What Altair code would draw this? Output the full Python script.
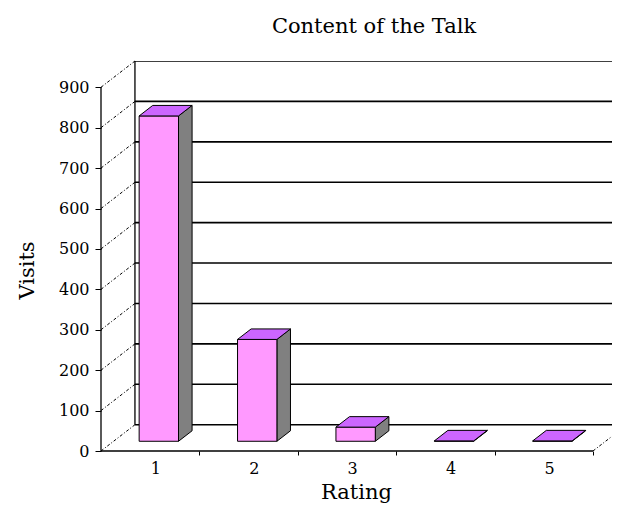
import json
import altair as alt
import pandas as pd

# ---------------- data ----------------
ratings = ["1", "2", "3", "4", "5"]
visits = [805, 252, 35, 1, 1]
y_ticks = [0, 100, 200, 300, 400, 500, 600, 700, 800, 900]

title_text = "Content of the Talk"
x_title = "Rating"
y_title = "Visits"

# ---------------- 3D geometry (data units) ----------------
DX = 0.345          # depth shift along x (in category widths)
DY = 65.0           # depth shift along y (in value units)
BAR_L, BAR_R = 0.26, 0.66   # bar extent inside its category
F0, F1 = 0.37, 0.77         # bar front / back depth fractions
n = len(ratings)
W, H = 511, 390
XMAX = W / 98.4
YMAX = max(y_ticks) + DY

FONT = "DejaVu Serif"
FRONT = "#FF99FF"
TOP = "#CC66FF"
SIDE = "#808080"

X = alt.Scale(domain=[0, XMAX], nice=False, zero=False)
Y = alt.Scale(domain=[0, YMAX], nice=False, zero=False)

AX = alt.Axis(
    values=list(range(1, n + 1)),
    labelExpr=f"{json.dumps(ratings)}[datum.value - 1]",
    domain=False, grid=False, ticks=True, tickSize=4, tickColor="black", tickWidth=1,
    labelOffset=-44, labelPadding=5, labelFont=FONT, labelFontSize=16,
    labelColor="black", labelOverlap=False, labelFlush=False,
    title=x_title, titleFont=FONT, titleFontSize=21, titleFontWeight="normal",
    titleColor="black", titleX=255, titleY=47, titleAlign="center",
    titleBaseline="alphabetic",
)
AY = alt.Axis(
    values=y_ticks,
    domain=False, grid=False, ticks=True, tickSize=6, tickColor="black", tickWidth=1,
    labelPadding=6, labelFont=FONT, labelFontSize=16, labelColor="black",
    labelOverlap=False, labelFlush=False,
    title=y_title, titleFont=FONT, titleFontSize=21, titleFontWeight="normal",
    titleColor="black", titleAngle=270, titleX=-68, titleY=209,
    titleAlign="center", titleBaseline="alphabetic",
)


def xe(f):
    return alt.X(f, type="quantitative", scale=X, axis=AX)


def ye(f):
    return alt.Y(f, type="quantitative", scale=Y, axis=AY)


# back-wall gridlines
grid_df = pd.DataFrame({"v": y_ticks})
grid_df["x1"] = DX
grid_df["x2"] = n + DX
grid_df["y1"] = grid_df["v"] + DY
grid_layer = alt.Chart(grid_df).mark_rule(color="black", strokeWidth=1.6, clip=True).encode(
    x=xe("x1"), x2="x2", y=ye("y1"), y2="y1"
)

# side-wall dash-dot lines
side_df = pd.DataFrame({"v": y_ticks})
side_df["x1"] = 0.0
side_df["x2"] = DX
side_df["y1"] = side_df["v"]
side_df["y2"] = side_df["v"] + DY
side_layer = alt.Chart(side_df).mark_rule(color="black", strokeWidth=1, strokeDash=[3, 2, 1, 2]).encode(
    x=xe("x1"), x2="x2", y=ye("y1"), y2="y2"
)

# floor right edge (dash-dot)
fr_df = pd.DataFrame({"x1": [float(n)], "x2": [n + DX], "y1": [0.0], "y2": [DY]})
fr_layer = alt.Chart(fr_df).mark_rule(color="black", strokeWidth=1, strokeDash=[3, 2, 1, 2], clip=True).encode(
    x=xe("x1"), x2="x2", y=ye("y1"), y2="y2"
)

# solid edges: back-wall left edge, front floor edge, front value axis
edge_df = pd.DataFrame({
    "x1": [DX, 0.0, 0.0],
    "x2": [DX, float(n), 0.0],
    "y1": [DY, 0.0, 0.0],
    "y2": [max(y_ticks) + DY, 0.0, float(max(y_ticks))],
})
edge_layer = alt.Chart(edge_df).mark_rule(color="black", strokeWidth=1.3).encode(
    x=xe("x1"), x2="x2", y=ye("y1"), y2="y2"
)

# bars
front_rows, side_rows, top_rows = [], [], []
for i, (r, v) in enumerate(zip(ratings, visits)):
    front_rows.append({
        "r": r,
        "xl": i + BAR_L + F0 * DX, "xr": i + BAR_R + F0 * DX,
        "yt": v + F0 * DY, "yb": F0 * DY,
    })
    for f in (F0, F1):
        side_rows.append({"r": r, "x": i + BAR_R + f * DX, "yt": v + f * DY, "yb": f * DY})
        top_rows.append({"r": r, "y": v + f * DY, "xl": i + BAR_L + f * DX, "xr": i + BAR_R + f * DX})

side_face = alt.Chart(pd.DataFrame(side_rows)).mark_area(
    orient="vertical", color=SIDE, stroke="black", strokeWidth=1, opacity=1
).encode(
    x=xe("x"), y=alt.Y("yt:Q", scale=Y, axis=AY, stack=None), y2="yb", detail="r:N"
)

front_face = alt.Chart(pd.DataFrame(front_rows)).mark_rect(
    color=FRONT, stroke="black", strokeWidth=1
).encode(
    x=xe("xl"), x2="xr", y=ye("yt"), y2="yb"
)

top_face = alt.Chart(pd.DataFrame(top_rows)).mark_area(
    orient="horizontal", color=TOP, stroke="black", strokeWidth=1, opacity=1
).encode(
    y=ye("y"), x=alt.X("xl:Q", scale=X, axis=AX, stack=None), x2="xr", detail="r:N"
)

# chart title as a text label above the plot
title_layer = alt.Chart(pd.DataFrame({"t": [title_text]})).mark_text(
    font=FONT, fontSize=21, color="black", align="center", baseline="alphabetic"
).encode(
    text="t:N", x=alt.value(273), y=alt.value(-28)
)

chart = alt.layer(
    grid_layer, side_layer, fr_layer, edge_layer, side_face, front_face, top_face, title_layer
).properties(
    width=W,
    height=H,
    autosize=alt.AutoSizeParams(type="none"),
    padding={"left": 93, "top": 53, "right": 0, "bottom": 52},
    background="white",
).configure_view(stroke=None)

chart.save("out.html", embed_options={"renderer": "svg", "actions": False})
